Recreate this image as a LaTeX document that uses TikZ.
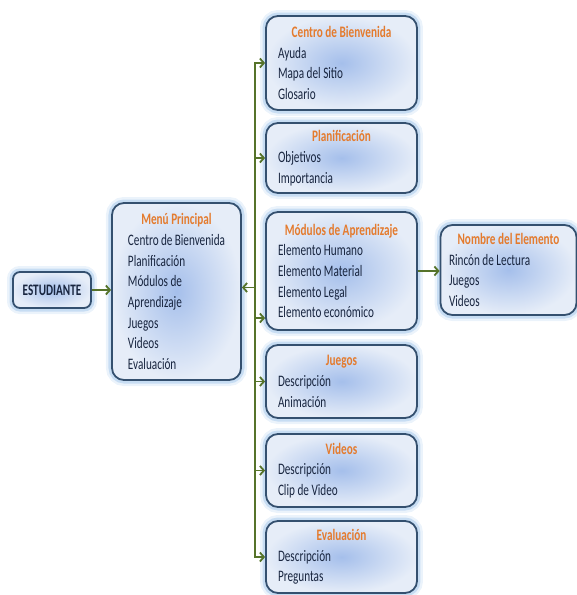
\documentclass[tikz,border=0pt]{standalone}
\usepackage{fontspec}
\setmainfont{Carlito}
\usetikzlibrary{arrows.meta}

\definecolor{borde}{HTML}{34506F}
\definecolor{titulo}{HTML}{E47B2E}
\definecolor{texto}{HTML}{18253F}
\definecolor{verde}{HTML}{56732A}
\definecolor{halo}{HTML}{9CC2EA}
\definecolor{fondoin}{HTML}{A5BFEB}
\definecolor{fondoout}{HTML}{E6EDF8}

% texto estrecho: titulo centrado y lista a la izquierda
\newcommand{\contenido}[3]{\scalebox{0.7}[1]{\parbox{#1}{\centering\textcolor{titulo}{\bfseries #2}\par\raggedright #3}}}

\begin{document}
\begin{tikzpicture}[
    caja/.style={draw=borde, line width=1.8pt, rounded corners=12pt,
      inner color=fondoin, outer color=fondoout, text=texto,
      font=\fontsize{16}{20.7}\selectfont, inner ysep=0pt,
      preaction={draw=halo, line width=12pt, opacity=0.2},
      preaction={draw=halo, line width=7pt, opacity=0.45}},
    derecha/.style={caja, inner xsep=12pt},
    linea/.style={draw=verde, line width=1.8pt},
    conector/.style={linea, -{Straight Barb[length=4pt,width=9pt,line width=1.8pt]}}]

    \useasboundingbox (0,0) rectangle (577pt,-595pt);

    \node[caja, inner xsep=0pt, minimum width=78pt, minimum height=36pt, rounded corners=7pt,
      font=\bfseries\fontsize{16}{17}\selectfont] (est) at (52pt,-290pt) {\scalebox{0.7}[1]{ESTUDIANTE}};

    \node[caja, inner xsep=16pt, minimum height=177pt] (menu) at (176.5pt,-291.5pt)
      {\contenido{138.6pt}{Menú Principal}{Centro de Bienvenida\\ Planificación\\ Módulos de\\ Aprendizaje\\ Juegos\\ Videos\\ Evaluación}};

    \node[derecha, minimum height=94pt] (centro) at (341.5pt,-63pt)
      {\contenido{181.4pt}{Centro de Bienvenida}{Ayuda\\ Mapa del Sitio\\ Glosario}};
    \node[derecha, minimum height=70pt] (plan) at (341.5pt,-158pt)
      {\contenido{181.4pt}{Planificación}{Objetivos\\ Importancia}};
    \node[derecha, minimum height=118pt] (modulos) at (341.5pt,-271pt)
      {\contenido{181.4pt}{Módulos de Aprendizaje}{Elemento Humano\\ Elemento Material\\ Elemento Legal\\ Elemento económico}};
    \node[derecha, minimum height=73pt] (juegos) at (341.5pt,-381.5pt)
      {\contenido{181.4pt}{Juegos}{Descripción\\ Animación}};
    \node[derecha, minimum height=73pt] (videos) at (341.5pt,-470.5pt)
      {\contenido{181.4pt}{Videos}{Descripción\\ Clip de Video}};
    \node[derecha, minimum height=72pt] (evaluacion) at (341.5pt,-557pt)
      {\contenido{181.4pt}{Evaluación}{Descripción\\ Preguntas}};

    \node[caja, inner xsep=8.5pt, minimum height=90pt] (nombre) at (508.5pt,-270pt)
      {\contenido{170pt}{Nombre del Elemento}{Rincón de Lectura\\ Juegos\\ Videos}};

    % tronco vertical
    \coordinate (tronco) at (255pt,0pt);
    \draw[linea, line cap=rect] (tronco |- centro.west) -- (tronco |- evaluacion.west);

    \draw[conector] (est.east) -- (est.east -| menu.west);
    \draw[conector] ([yshift=4pt]menu.east -| tronco) -- ([yshift=4pt]menu.east);
    \draw[conector] (tronco |- centro.west) -- (centro.west);
    \draw[conector] (tronco |- plan.west) -- (plan.west);
    \draw[conector] ([yshift=-47pt]modulos.west -| tronco) -- ([yshift=-47pt]modulos.west);
    \draw[conector] (tronco |- juegos.west) -- (juegos.west);
    \draw[conector] (tronco |- videos.west) -- (videos.west);
    \draw[conector] (tronco |- evaluacion.west) -- (evaluacion.west);
    \draw[conector] (modulos.east) -- (modulos.east -| nombre.west);
\end{tikzpicture}
\end{document}
